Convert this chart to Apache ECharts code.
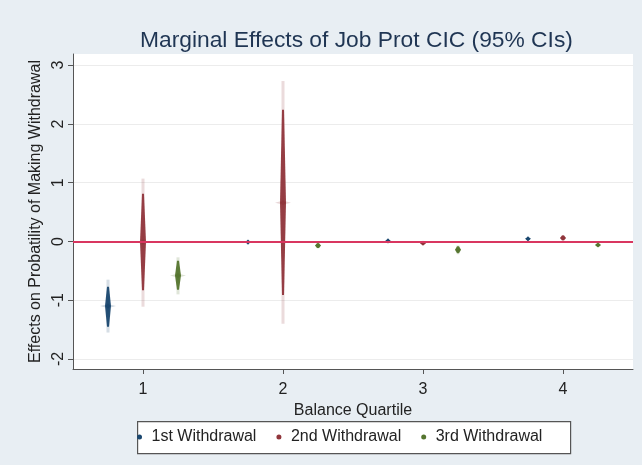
<!DOCTYPE html>
<html>
<head>
<meta charset="utf-8">
<script src="https://cdn.jsdelivr.net/npm/echarts@6/dist/echarts.min.js"></script>
<style>
  html, body { margin: 0; padding: 0; background: #e8eef3; }
  #chart { width: 642px; height: 465px; }
</style>
</head>
<body>
<div id="chart"></div>
<script>
// Balance quartiles on the x axis
const quartiles = [1, 2, 3, 4];
const xTicks = [1, 2, 3, 4];
const yTicks = [-2, -1, 0, 1, 2, 3];
const seriesNames = ['1st Withdrawal', '2nd Withdrawal', '3rd Withdrawal'];

// Point estimates
const est1 = [-1.10, -0.01, 0.01, 0.045];
const est2 = [-0.01, 0.66, -0.03, 0.06];
const est3 = [-0.58, -0.07, -0.14, -0.06];

// Pale outer whiskers (lower / upper)
const outerLo1 = [-1.55, -0.03, -0.01, 0.025];
const outerHi1 = [-0.65, 0.01, 0.03, 0.065];
const outerLo2 = [-1.11, -1.40, -0.06, 0.01];
const outerHi2 = [1.07, 2.73, 0.00, 0.11];
const outerLo3 = [-0.90, -0.12, -0.22, -0.09];
const outerHi3 = [-0.27, -0.02, -0.06, -0.03];

// Dark inner spindles (lower / upper)
const innerLo1 = [-1.45, -0.02, 0.00, 0.03];
const innerHi1 = [-0.77, 0.00, 0.02, 0.06];
const innerLo2 = [-0.83, -0.91, -0.05, 0.02];
const innerHi2 = [0.81, 2.24, -0.01, 0.10];
const innerLo3 = [-0.82, -0.11, -0.20, -0.085];
const innerHi3 = [-0.33, -0.03, -0.08, -0.035];

// Reference line
const refLine = 0;

const colors = ['#1a476f', '#90353b', '#55752f'];
const shifts = [-0.25, 0, 0.25];

function rows(est, oLo, oHi, iLo, iHi, shift) {
  return quartiles.map((q, i) => [q + shift, est[i], oLo[i], oHi[i], iLo[i], iHi[i]]);
}

function renderSpike(color) {
  return function (params, api) {
    const x = api.value(0);
    const pE = api.coord([x, api.value(1)]);
    const pOL = api.coord([x, api.value(2)]);
    const pOH = api.coord([x, api.value(3)]);
    const pIL = api.coord([x, api.value(4)]);
    const pIH = api.coord([x, api.value(5)]);
    const cx = pE[0], cy = pE[1];
    const long = (pIL[1] - pIH[1]) > 20;
    const children = [];
    // pale outer whisker
    children.push({
      type: 'rect',
      shape: { x: cx - 1.5, y: pOH[1], width: 3, height: Math.max(pOL[1] - pOH[1], 1) },
      style: { fill: color, opacity: long ? 0.18 : 0.1 }
    });
    // soft glow round the estimate (long intervals only)
    if (long) {
      const w = 8, h = 9, a = 1.6;
      children.push({
        type: 'polygon',
        shape: { points: [[cx, cy - h], [cx + a, cy - a], [cx + w, cy], [cx + a, cy + a], [cx, cy + h], [cx - a, cy + a], [cx - w, cy], [cx - a, cy - a]] },
        style: { fill: color, opacity: 0.2 }
      });
    }
    // dark spindle
    const e = 1.0, m = 3.0;
    children.push({
      type: 'polygon',
      shape: { points: [[cx - e, pIH[1]], [cx + e, pIH[1]], [cx + m, cy], [cx + e, pIL[1]], [cx - e, pIL[1]], [cx - m, cy]] },
      style: { fill: color, opacity: 0.95 }
    });
    // estimate marker
    const s = 2.6;
    children.push({
      type: 'polygon',
      shape: { points: [[cx, cy - s], [cx + s, cy], [cx, cy + s], [cx - s, cy]] },
      style: { fill: color }
    });
    return { type: 'group', children: children };
  };
}

const data = [
  rows(est1, outerLo1, outerHi1, innerLo1, innerHi1, shifts[0]),
  rows(est2, outerLo2, outerHi2, innerLo2, innerHi2, shifts[1]),
  rows(est3, outerLo3, outerHi3, innerLo3, innerHi3, shifts[2])
];

const font = 'Liberation Sans, Arial, sans-serif';
const chart = echarts.init(document.getElementById('chart'), null, { renderer: 'canvas' });

const series = data.map((d, k) => ({
  name: seriesNames[k],
  type: 'custom',
  renderItem: renderSpike(colors[k]),
  itemStyle: { color: colors[k] },
  encode: { x: 0, y: [1, 2, 3] },
  data: d,
  z: 3 + k
}));

// horizontal reference line at zero
series.push({
  name: 'ref',
  type: 'line',
  data: [],
  silent: true,
  markLine: {
    silent: true,
    symbol: 'none',
    label: { show: false },
    lineStyle: { color: '#d93660', width: 1.8, type: 'solid' },
    data: [{ yAxis: refLine }]
  },
  z: 2
});

chart.setOption({
  backgroundColor: '#e8eef3',
  animation: false,
  title: {
    text: 'Marginal Effects of Job Prot CIC (95% CIs)',
    left: 140,
    top: 29,
    padding: 0,
    textStyle: { fontFamily: font, fontSize: 22.8, fontWeight: 'normal', color: '#1f3553' }
  },
  grid: {
    left: 73, right: 9, top: 54, bottom: 96,
    show: true, backgroundColor: '#ffffff', borderWidth: 0
  },
  xAxis: {
    type: 'value',
    min: 0.5, max: 4.5,
    name: 'Balance Quartile',
    nameLocation: 'middle',
    nameGap: 29,
    nameTextStyle: { fontFamily: font, fontSize: 16, color: '#222' },
    axisLine: { show: true, onZero: false, lineStyle: { color: '#555', width: 1 } },
    axisTick: { show: true, length: 5, customValues: xTicks, lineStyle: { color: '#555' } },
    axisLabel: { customValues: xTicks, margin: 13, fontFamily: font, fontSize: 16, color: '#222' },
    splitLine: { show: false }
  },
  yAxis: {
    type: 'value',
    min: -2.17, max: 3.19,
    name: 'Effects on Probatility of Making Withdrawal',
    nameLocation: 'middle',
    nameGap: 20,
    nameTextStyle: { fontFamily: font, fontSize: 16, color: '#222' },
    axisLine: { show: true, onZero: false, lineStyle: { color: '#555', width: 1 } },
    axisTick: { show: true, length: 5, customValues: yTicks, lineStyle: { color: '#555' } },
    axisLabel: { customValues: yTicks, rotate: 90, margin: 6, fontFamily: font, fontSize: 16, color: '#222' },
    splitLine: { show: true, lineStyle: { color: '#ececec', width: 1 } }
  },
  legend: {
    data: seriesNames,
    left: 137,
    top: 429,
    padding: 0,
    icon: 'circle',
    itemWidth: 14,
    itemHeight: 5,
    itemGap: 20,
    textStyle: { fontFamily: font, fontSize: 16, color: '#222' }
  },
  graphic: [{
    type: 'rect',
    left: 137, top: 421,
    shape: { width: 433, height: 32 },
    style: { fill: '#ffffff', stroke: '#555', lineWidth: 1.2 },
    z: -1
  }],
  series: series
});
</script>
</body>
</html>
